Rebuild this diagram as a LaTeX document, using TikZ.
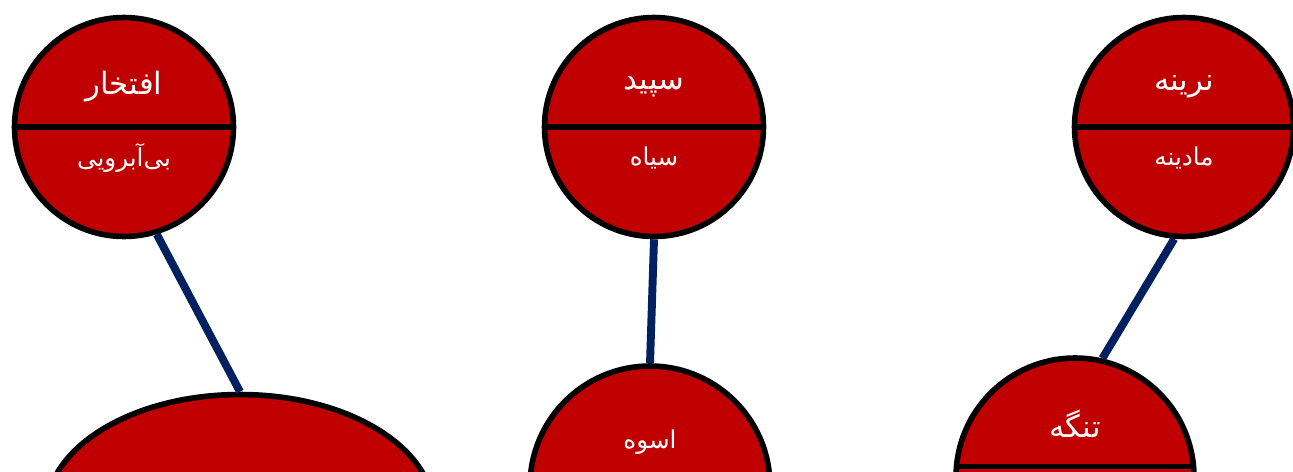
\documentclass[tikz,border=0pt]{standalone}
\usepackage{fontspec}
\usetikzlibrary{shapes.geometric}
\newfontfamily\arabicfont[Script=Arabic]{DejaVu Sans}
\TeXXeTstate=1
\definecolor{polered}{HTML}{C00000}
\definecolor{linkblue}{HTML}{002060}
\newcommand{\fa}[1]{\beginR #1\endR}

\begin{document}
\begin{tikzpicture}[x=0.02cm,y=-0.02cm,
  pole/.style={circle,draw=black,line width=3.2pt,fill=polered,inner sep=0pt},
  divider/.style={line width=3pt,draw=black},
  link/.style={line width=4.5pt,draw=linkblue},
  uptext/.style={text=white,font=\arabicfont\fontsize{17.5}{20}\selectfont},
  downtext/.style={text=white,font=\arabicfont\fontsize{14}{16}\selectfont}]
\useasboundingbox (0,0) rectangle (1293,471);
\clip (0,0) rectangle (1293,471);

% Top circles (pairs of opposites)
\foreach \n/\x/\up/\down in {1/124/افتخار/بی‌آبرویی, 2/654/سپید/سیاه, 3/1184/نرینه/مادینه} {
    \node[pole,minimum size=4.38cm] (c\n) at (\x,127) {};
    \draw[divider] (c\n.west) -- (c\n.east);
    \node[uptext] (c\n up) at (\x,87) {\fa{\up}};
    \node[downtext] (c\n down) at (\x,158) {\fa{\down}};
}

% Bottom shapes
\node[pole,ellipse,minimum width=7.75cm,minimum height=4.7cm] (b1) at (240,512) {};
\node[pole,minimum size=4.8cm] (b2) at (650,486) {};
\node[pole,minimum size=4.76cm] (b3) at (1075,477) {};
\draw[divider] (b3.175) -- (b3.5);
\node[downtext] (b2 text) at (650,442) {\fa{اسوه}};
\node[uptext] (b3 text) at (1075,424) {\fa{تنگه}};

% Links
\draw[link] (c1.-73) -- (b1.north);
\draw[link] (c2.south) -- (b2.north);
\draw[link] (c3.-95) -- (b3.77);

\end{tikzpicture}
\end{document}
